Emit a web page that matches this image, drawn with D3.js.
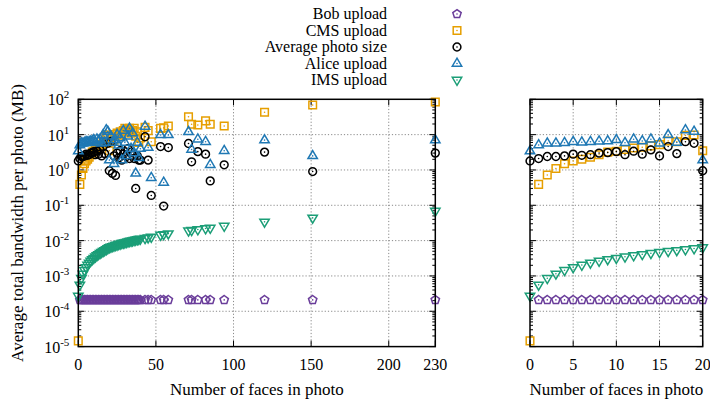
<!DOCTYPE html>
<html>
<head>
<meta charset="utf-8">
<script src="https://cdn.jsdelivr.net/npm/d3@7"></script>
<style>
  body { margin: 0; background: #fff; }
  svg { display: block; }
</style>
</head>
<body>
<svg id="chart" width="710" height="403" font-family="'Liberation Serif', Tinos, 'Times New Roman', Times, 'Nimbus Roman', 'DejaVu Serif', serif"></svg>
<script>
// Number of faces detected in each photo group
const faces = [0, 1, 2, 3, 4, 5, 6, 7, 8, 9, 10, 11, 12, 13, 14, 15, 16, 17, 18, 19, 20,
  21, 22, 23, 24, 25, 26, 27, 28, 29, 30, 31, 32, 33, 34, 35, 36, 37, 38, 39, 40,
  43, 45, 47, 53, 55, 58, 71, 73, 77, 82, 85, 94, 120, 151, 230];

// Average total bandwidth per photo (MB), one value per entry of `faces`
const bobUpload = [null, 2.1e-4, 2.1e-4, 2.1e-4, 2.1e-4, 2.1e-4, 2.1e-4, 2.1e-4, 2.1e-4, 2.1e-4, 2.1e-4,
  2.1e-4, 2.1e-4, 2.1e-4, 2.1e-4, 2.1e-4, 2.1e-4, 2.1e-4, 2.1e-4, 2.1e-4, 2.1e-4,
  2.1e-4, 2.1e-4, 2.1e-4, 2.1e-4, 2.1e-4, 2.1e-4, 2.1e-4, 2.1e-4, 2.1e-4, 2.1e-4,
  2.1e-4, 2.1e-4, 2.1e-4, 2.1e-4, 2.1e-4, 2.1e-4, 2.1e-4, 2.1e-4, 2.1e-4, 2.1e-4,
  2.1e-4, 2.1e-4, 2.1e-4, 2.1e-4, 2.1e-4, 2.1e-4, 2.1e-4, 2.1e-4, 2.1e-4, 2.1e-4,
  2.1e-4, 2.1e-4, 2.1e-4, 2.1e-4, 2.1e-4];

const cmsUpload = [1.45e-5, 0.39, 0.72, 1.1, 1.5, 1.8, 2.0, 2.3, 2.7, 3.2, 3.4,
  3.8, 4.2, 4.4, 4.8, 5.2, 6.6, 6.3, 9.5, 9.8, 3.5,
  8, 9, 7, 10, 11, 9, 12, 10, 13, 15,
  12, 14, 15, 11, 13, 15, 9, 12, 6, 8,
  16, 13, 6.3, 15, 15.5, 17.5, 32, 19.6, 18.7, 24.5, 19.6, 17.5, 43, 69, 84];

const avgPhotoSize = [1.8, 2.1, 2.4, 2.4, 2.5, 2.8, 2.6, 2.7, 3.0, 3.1, 3.3,
  2.7, 3.4, 2.8, 3.7, 2.5, 4.6, 2.9, 6.3, 5.7, 0.95,
  6.3, 0.8, 2.5, 0.7, 3, 2.2, 3.5, 1.9, 2.8, 3.3,
  2.4, 4, 2.1, 3.2, 2.6, 2.1, 0.3, 2.5, 1.9, 1.9,
  8.7, 1.9, 0.19, 4.6, 0.095, 4.3, 5.6, 1.7, 3.3, 2.8, 0.49, 1.4, 3.2, 0.9, 3];

const aliceUpload = [3.4, 5.1, 5.7, 5.7, 5.9, 6.3, 6.1, 6.3, 6.5, 6.6, 7.1,
  5.9, 7.4, 6.6, 7.4, 5.7, 9.8, 6.0, 13.5, 12.2, 1.9,
  9, 6, 1.5, 7, 10, 5, 8, 1.9, 13, 6,
  2.5, 9, 15, 4, 11, 3, 0.8, 6, 2.2, 4,
  17, 4.3, 0.6, 9.8, 0.44, 9.8, 12, 3.8, 7.4, 6.3, 1.4, 3.5, 7, 2.5, 7];

const imsUpload = [2.7e-4, 5.6e-4, 8.6e-4, 1.15e-3, 1.45e-3, 1.75e-3, 2.05e-3, 2.35e-3, 2.65e-3, 2.95e-3, 3.2e-3,
  3.5e-3, 3.8e-3, 4.1e-3, 4.4e-3, 4.7e-3, 5.0e-3, 5.3e-3, 5.6e-3, 6.0e-3, 6.4e-3,
  6.6e-3, 6.9e-3, 7.1e-3, 7.4e-3, 7.6e-3, 7.9e-3, 8.1e-3, 8.4e-3, 8.6e-3, 8.8e-3,
  9.1e-3, 9.3e-3, 9.6e-3, 9.8e-3, 1.0e-2, 1.03e-2, 1.05e-2, 1.08e-2, 1.1e-2, 1.12e-2,
  0.0117, 0.0122, 0.0127, 0.0144, 0.0150, 0.0158, 0.019, 0.0196, 0.0206, 0.022, 0.0228, 0.026, 0.034, 0.044, 0.069];

const seriesNames = ["Bob upload", "CMS upload", "Average photo size", "Alice upload", "IMS upload"];
const seriesValues = [bobUpload, cmsUpload, avgPhotoSize, aliceUpload, imsUpload];

// Axis tick labels
const xTicksFull = [0, 50, 100, 150, 200, 230];
const xTicksZoom = [0, 5, 10, 15, 20];
const yTickExponents = [2, 1, 0, -1, -2, -3, -4, -5];
const xTitle = "Number of faces in photo";
const yTitle = "Average total bandwidth per photo (MB)";

// ---- styling ----
const seriesColors = ["#6a3d9a", "#e69f00", "#000000", "#1f78b4", "#1b9e77"];
const seriesShapes = ["pentagon", "square", "circle", "triUp", "triDown"];
const labelSize = 17;
const legendSize = 16;
const tickSize = 16;

function shapePath(kind) {
  const p = d3.path();
  if (kind === "square") {
    const h = 3.8;
    p.rect(-h, -h, 2 * h, 2 * h);
  } else if (kind === "circle") {
    p.arc(0, 0, 3.9, 0, 2 * Math.PI);
  } else if (kind === "triUp" || kind === "triDown") {
    const w = 9.4, H = 8, s = kind === "triUp" ? 1 : -1;
    p.moveTo(0, -s * H * 2 / 3);
    p.lineTo(w / 2, s * H / 3);
    p.lineTo(-w / 2, s * H / 3);
    p.closePath();
  } else if (kind === "pentagon") {
    const r = 4.4;
    for (let k = 0; k < 5; k++) {
      const a = -Math.PI / 2 + k * 2 * Math.PI / 5;
      const x = r * Math.cos(a), y = r * Math.sin(a);
      if (k === 0) p.moveTo(x, y); else p.lineTo(x, y);
    }
    p.closePath();
  }
  return p.toString();
}

function drawMarker(g, x, y, idx) {
  const m = g.append("g").attr("transform", `translate(${x},${y})`);
  m.append("path")
    .attr("d", shapePath(seriesShapes[idx]))
    .attr("fill", "none")
    .attr("stroke", seriesColors[idx])
    .attr("stroke-width", 1.5)
    .attr("stroke-linejoin", "miter");
  m.append("circle").attr("r", 0.8).attr("fill", seriesColors[idx]);
}

const svg = d3.select("#chart");

const yScaleFor = (top, bottom) => d3.scaleLog().domain([1e-5, 1e2]).range([bottom, top]);

function drawPanel(opts) {
  const { left, right, top, bottom, xMax, xTicks, showYLabels } = opts;
  const x = d3.scaleLinear().domain([0, xMax]).range([left, right]);
  const y = yScaleFor(top, bottom);
  const g = svg.append("g");

  // grid
  const grid = g.append("g").attr("stroke", "#8a8a8a").attr("stroke-width", 1)
    .attr("stroke-dasharray", "1.2,2");
  xTicks.filter(t => t > 0 && t < xMax).forEach(t => {
    grid.append("line").attr("x1", x(t)).attr("x2", x(t)).attr("y1", top).attr("y2", bottom);
  });
  yTickExponents.filter(e => e < 2 && e > -5).forEach(e => {
    grid.append("line").attr("x1", left).attr("x2", right).attr("y1", y(Math.pow(10, e))).attr("y2", y(Math.pow(10, e)));
  });

  // ticks (inward on all four sides)
  const tk = g.append("g").attr("stroke", "#000").attr("stroke-width", 1);
  xTicks.forEach(t => {
    tk.append("line").attr("x1", x(t)).attr("x2", x(t)).attr("y1", bottom).attr("y2", bottom - 6);
    tk.append("line").attr("x1", x(t)).attr("x2", x(t)).attr("y1", top).attr("y2", top + 6);
  });
  yTickExponents.forEach(e => {
    const v = Math.pow(10, e);
    tk.append("line").attr("x1", left).attr("x2", left + 6).attr("y1", y(v)).attr("y2", y(v));
    tk.append("line").attr("x1", right).attr("x2", right - 6).attr("y1", y(v)).attr("y2", y(v));
    if (e > -5) {
      for (let m = 2; m <= 9; m++) {
        const mv = m * Math.pow(10, e - 1);
        tk.append("line").attr("x1", left).attr("x2", left + 3).attr("y1", y(mv)).attr("y2", y(mv));
        tk.append("line").attr("x1", right).attr("x2", right - 3).attr("y1", y(mv)).attr("y2", y(mv));
      }
    }
  });

  // x tick labels
  xTicks.forEach(t => {
    g.append("text").attr("x", x(t)).attr("y", 370).attr("text-anchor", "middle")
      .attr("font-size", tickSize).text(t);
  });

  // y tick labels
  if (showYLabels) {
    yTickExponents.forEach(e => {
      const t = g.append("text").attr("x", left - 9).attr("y", y(Math.pow(10, e)) + 6)
        .attr("text-anchor", "end").attr("font-size", tickSize);
      t.append("tspan").text("10");
      t.append("tspan").attr("font-size", 11).attr("dy", -7).text(String(e));
    });
  }

  // x title
  g.append("text").attr("x", (left + right) / 2).attr("y", 395).attr("text-anchor", "middle")
    .attr("font-size", labelSize).text(xTitle);

  // data
  const marks = g.append("g");
  seriesValues.forEach((vals, si) => {
    faces.forEach((f, i) => {
      const v = vals[i];
      if (v == null || f > xMax) return;
      drawMarker(marks, x(f), y(v), si);
    });
  });

  // frame
  g.append("rect").attr("x", left).attr("y", top).attr("width", right - left).attr("height", bottom - top)
    .attr("fill", "none").attr("stroke", "#000").attr("stroke-width", 1.5);
}

drawPanel({ left: 78.3, right: 435.3, top: 99.3, bottom: 346.6, xMax: 230, xTicks: xTicksFull, showYLabels: true });
drawPanel({ left: 530, right: 702.7, top: 99.3, bottom: 346.6, xMax: 20, xTicks: xTicksZoom, showYLabels: false });

// y-axis title
svg.append("text")
  .attr("transform", "translate(23,223) rotate(-90)")
  .attr("text-anchor", "middle").attr("font-size", labelSize).text(yTitle);

// legend
const legend = svg.append("g");
seriesNames.forEach((name, i) => {
  const ly = 14 + i * 16.5;
  legend.append("text").attr("x", 387).attr("y", ly + 5).attr("text-anchor", "end")
    .attr("font-size", legendSize).text(name);
  drawMarker(legend, 457, ly, i);
});
</script>
</body>
</html>
